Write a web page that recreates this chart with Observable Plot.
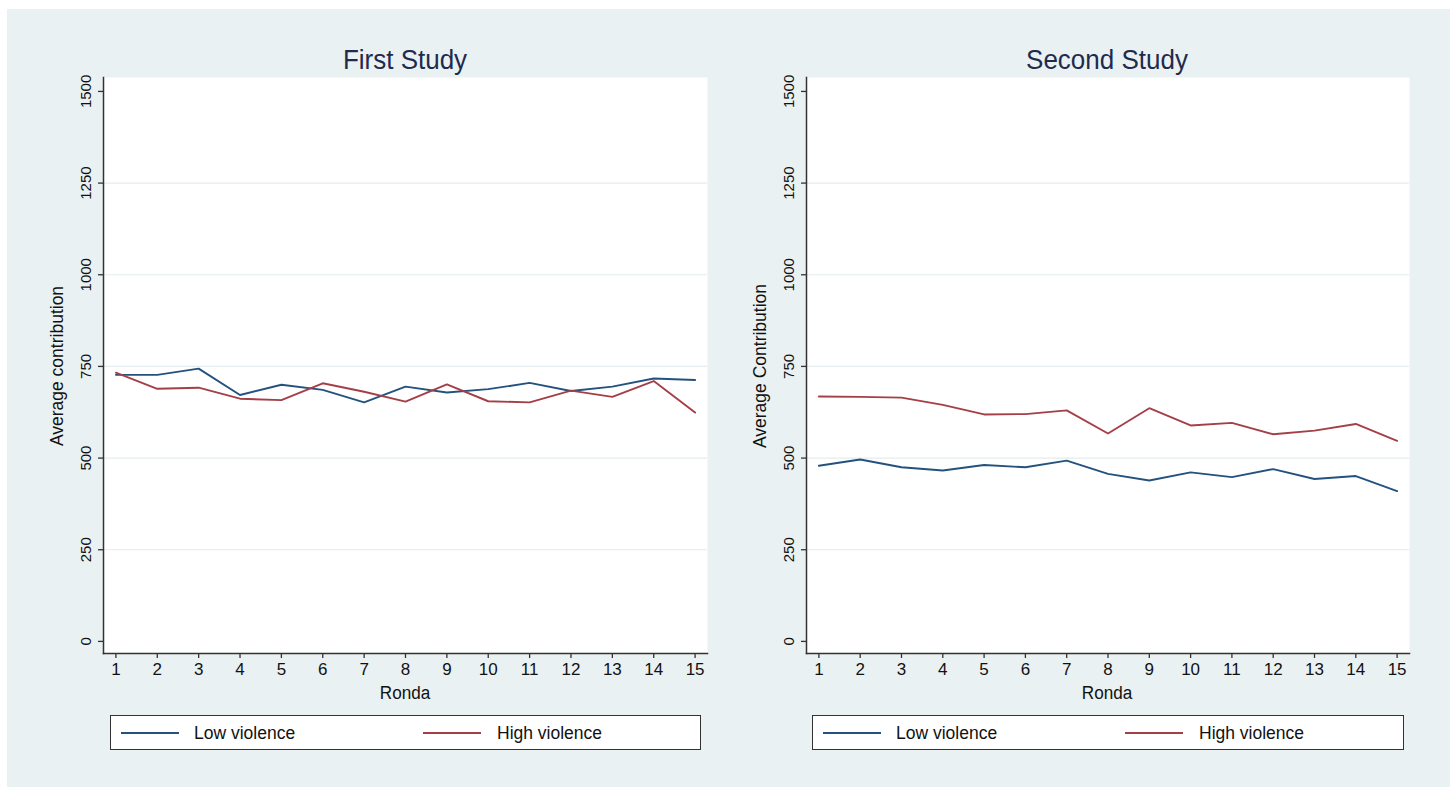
<!DOCTYPE html>
<html>
<head>
<meta charset="utf-8">
<script src="https://cdn.jsdelivr.net/npm/d3@7"></script>
<script src="https://cdn.jsdelivr.net/npm/@observablehq/plot@0.6"></script>
<style>
  html, body { margin: 0; padding: 0; background: #ffffff; }
  #page { position: relative; width: 1450px; height: 787px; overflow: hidden; background: #ffffff;
          font-family: "Liberation Sans", Arial, Helvetica, sans-serif; color: #111; }
  #bg { position: absolute; left: 7px; top: 9px; right: 0; bottom: 0; background: #eaf1f3; }
  .panel { position: absolute; top: 0; }
  .title { position: absolute; font-size: 26px; color: #1f2b4d; transform: translate(-50%, -50%) scaleY(1.06); white-space: nowrap; }
  .xlab { position: absolute; font-size: 18px; transform: translate(-50%, -50%) scaleX(0.95); white-space: nowrap; }
  .ylab { position: absolute; font-size: 17.5px; transform: translate(-50%, -50%) rotate(-90deg); white-space: nowrap; }
  .legend { position: absolute; top: 715px; height: 33px; background: #fff; border: 1.5px solid #333; box-sizing: content-box; }
  .legend .sw { position: absolute; top: 16px; height: 2px; width: 58px; }
  .legend .lt { position: absolute; top: 50%; transform: translateY(-50%); font-size: 17.5px; white-space: nowrap; }
</style>
</head>
<body>
<div id="page">
  <div id="bg"></div>
</div>
<script>
// Average contribution per round, two studies, two violence groups
const rounds = [1, 2, 3, 4, 5, 6, 7, 8, 9, 10, 11, 12, 13, 14, 15];
const firstLow   = [727, 727, 744, 672, 700, 686, 652, 695, 679, 688, 705, 683, 695, 717, 713];
const firstHigh  = [733, 689, 692, 662, 658, 704, 681, 654, 701, 655, 652, 684, 667, 710, 624];
const secondLow  = [479, 496, 475, 466, 481, 475, 493, 457, 439, 461, 448, 470, 443, 451, 410];
const secondHigh = [668, 667, 665, 645, 619, 620, 630, 567, 636, 589, 596, 565, 575, 593, 547];
const yTicks = [0, 250, 500, 750, 1000, 1250, 1500];
const gridTicks = [250, 500, 750, 1000, 1250];
const groups = ["Low violence", "High violence"];
const colors = ["#24527f", "#a53f47"];

const page = document.getElementById("page");

function rows(lowVals, highVals) {
  const out = [];
  rounds.forEach((r, i) => out.push({ronda: r, value: lowVals[i], group: groups[0]}));
  rounds.forEach((r, i) => out.push({ronda: r, value: highVals[i], group: groups[1]}));
  return out;
}

function panel({left, width, marginLeft, marginRight, data}) {
  const chart = Plot.plot({
    width,
    height: 700,
    marginLeft,
    marginRight,
    marginTop: 77,
    marginBottom: 47,
    style: {background: "transparent", fontFamily: "Liberation Sans, Arial, sans-serif", color: "#111"},
    x: {domain: [0.7, 15.3]},
    y: {domain: [-33, 1538]},
    color: {domain: groups, range: colors},
    marks: [
      Plot.frame({fill: "#ffffff", stroke: null}),
      Plot.ruleY(gridTicks, {stroke: "#e4ecef", strokeWidth: 1.2}),
      Plot.axisY({ticks: yTicks, tickSize: 5, stroke: "#333", strokeWidth: 1.3, text: null, label: null}),
      Plot.text(yTicks, {y: d => d, text: d => String(d), frameAnchor: "left", dx: -17,
                         rotate: -90, textAnchor: "middle", lineAnchor: "middle", fontSize: 15, fill: "#111"}),
      Plot.axisX({ticks: rounds, tickSize: 5, tickPadding: 4, fontSize: 17, stroke: "#333",
                  strokeWidth: 1.3, label: null, tickFormat: d => String(d)}),
      Plot.frame({anchor: "left", stroke: "#333", strokeWidth: 1.5}),
      Plot.frame({anchor: "bottom", stroke: "#333", strokeWidth: 1.5}),
      Plot.line(data, {x: "ronda", y: "value", z: "group", stroke: "group", strokeWidth: 1.9,
                       strokeLinejoin: "round"})
    ]
  });
  chart.classList.add("panel");
  chart.style.left = left + "px";
  page.appendChild(chart);
}

function addText(cls, text, x, y) {
  const d = document.createElement("div");
  d.className = cls;
  d.textContent = text;
  d.style.left = x + "px";
  d.style.top = y + "px";
  page.appendChild(d);
}

function legend(left, width) {
  const box = document.createElement("div");
  box.className = "legend";
  box.style.left = left + "px";
  box.style.width = width + "px";
  const items = [[10, 83], [312, 386]];
  groups.forEach((g, i) => {
    const sw = document.createElement("div");
    sw.className = "sw";
    sw.style.left = items[i][0] + "px";
    sw.style.background = colors[i];
    box.appendChild(sw);
    const t = document.createElement("div");
    t.className = "lt";
    t.style.left = items[i][1] + "px";
    t.textContent = g;
    box.appendChild(t);
  });
  page.appendChild(box);
}

// First study
panel({left: 0, width: 720, marginLeft: 103, marginRight: 13, data: rows(firstLow, firstHigh)});
addText("title", "First Study", 405, 60);
addText("xlab", "Ronda", 405, 693);
addText("ylab", "Average contribution", 57, 366);
legend(110, 589);

// Second study
panel({left: 720, width: 730, marginLeft: 86, marginRight: 41, data: rows(secondLow, secondHigh)});
addText("title", "Second Study", 1107, 60);
addText("xlab", "Ronda", 1107, 693);
addText("ylab", "Average Contribution", 760, 366);
legend(812, 590);
</script>
</body>
</html>
